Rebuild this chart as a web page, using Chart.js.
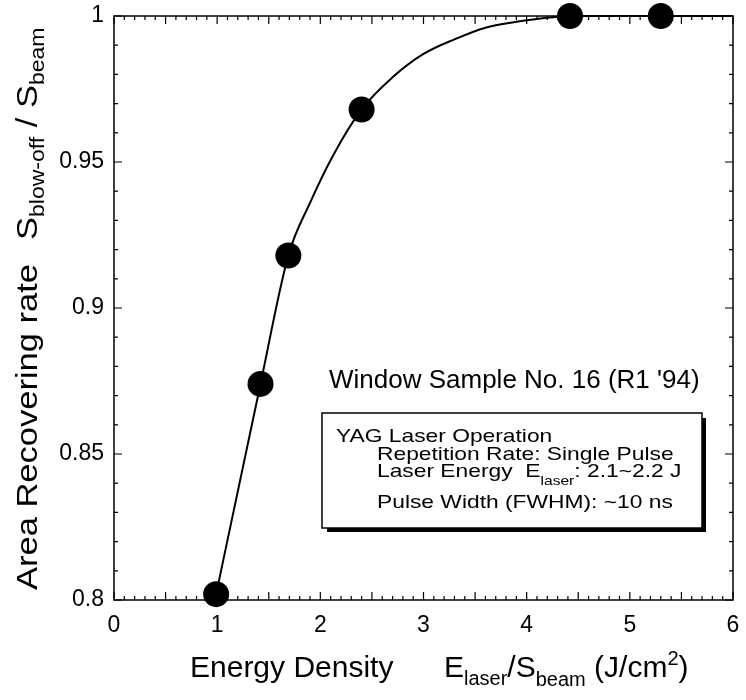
<!DOCTYPE html>
<html>
<head>
<meta charset="utf-8">
<script src="https://cdn.jsdelivr.net/npm/chart.js@4.4.1/dist/chart.umd.min.js"></script>
<style>
  html, body { margin: 0; padding: 0; background: #fff; }
  #wrap { width: 746px; height: 700px; }
</style>
</head>
<body>
<div id="wrap"><canvas id="chart" width="746" height="700"></canvas></div>
<script>
// measured points (energy density J/cm2 vs area recovering rate)
const energy = [0.99, 1.42, 1.69, 2.40, 4.42, 5.30];
const recovery = [0.802, 0.874, 0.918, 0.968, 1.0, 1.0];

// fitted curve
const fitEnergy = [0.99, 1.42, 1.69, 1.9, 2.12, 2.4, 2.7, 3.0, 3.3, 3.6, 3.9, 4.2, 4.5, 6.0];
const fitRecovery = [0.802, 0.874, 0.918, 0.936, 0.952, 0.968, 0.979, 0.987, 0.992, 0.996, 0.998, 0.9994, 1.0, 1.0];

const xTicks = [0, 1, 2, 3, 4, 5, 6];
const yTicks = [0.8, 0.85, 0.9, 0.95, 1];

const FONT = '"Liberation Sans", Arial, Helvetica, sans-serif';

// draw one run of text, optionally stretched sideways, return its width
function txt(ctx, s, x, y, size, sx) {
    sx = sx || 1;
    ctx.save();
    ctx.font = size + 'px ' + FONT;
    ctx.translate(x, y);
    ctx.scale(sx, 1);
    ctx.fillText(s, 0, 0);
    const w = ctx.measureText(s).width * sx;
    ctx.restore();
    return w;
}

// runs: [text, size, dy]
function rich(ctx, runs, x, y, sx) {
    let cx = x;
    runs.forEach(r => { cx += txt(ctx, r[0], cx, y + (r[2] || 0), r[1], sx); });
    return cx;
}

const framePlugin = {
    id: 'frame',
    beforeDatasetsDraw(chart) {
        const { ctx, chartArea: a, scales: { x, y } } = chart;
        ctx.save();
        ctx.strokeStyle = '#000';
        ctx.lineWidth = 1.5;
        ctx.strokeRect(a.left, a.top, a.right - a.left, a.bottom - a.top);
        ctx.lineWidth = 1.2;
        ctx.beginPath();
        for (let i = 0; i <= 60; i++) {
            const px = x.getPixelForValue(i / 10);
            const len = i % 5 === 0 ? 8 : 4;
            ctx.moveTo(px, a.bottom); ctx.lineTo(px, a.bottom - len);
            ctx.moveTo(px, a.top); ctx.lineTo(px, a.top + len);
        }
        for (let i = 0; i <= 20; i++) {
            const py = y.getPixelForValue(0.8 + i / 100);
            const len = i % 5 === 0 ? 8 : 4;
            ctx.moveTo(a.left, py); ctx.lineTo(a.left + len, py);
            ctx.moveTo(a.right, py); ctx.lineTo(a.right - len, py);
        }
        ctx.stroke();
        ctx.restore();
    }
};

const textPlugin = {
    id: 'texts',
    afterDraw(chart) {
        const ctx = chart.ctx;
        ctx.save();
        ctx.fillStyle = '#000';
        ctx.textBaseline = 'alphabetic';

        // y axis title
        ctx.save();
        ctx.translate(37, 590);
        ctx.rotate(-Math.PI / 2);
        let cx = txt(ctx, 'Area Recovering rate', 0, 0, 30, 1.15);
        cx += 24;
        rich(ctx, [['S', 30], ['blow-off', 20, 7], [' / ', 30], ['S', 30], ['beam', 20, 7]], cx, 0, 1.15);
        ctx.restore();

        // x axis title
        txt(ctx, 'Energy Density', 190, 677, 30);
        rich(ctx, [['E', 30], ['laser', 20, 8], ['/S', 30], ['beam', 20, 9], [' (J/cm', 30], ['2', 20, -12], [')', 30]], 444, 677);

        // sample label
        txt(ctx, "Window Sample No. 16 (R1 '94)", 329, 388, 26);

        // boxed note with drop shadow
        ctx.fillStyle = '#fff';
        ctx.fillRect(322, 413, 380, 115);
        ctx.strokeStyle = '#000';
        ctx.lineWidth = 1.5;
        ctx.strokeRect(322, 413, 380, 115);
        ctx.fillStyle = '#000';
        ctx.fillRect(702, 418, 4, 114);
        ctx.fillRect(327, 528, 379, 4);

        txt(ctx, 'YAG Laser Operation', 336, 442, 19, 1.2);
        txt(ctx, 'Repetition Rate: Single Pulse', 377, 460, 19, 1.2);
        rich(ctx, [['Laser Energy  E', 19], ['laser', 13, 8], [': 2.1~2.2 J', 19]], 377, 477, 1.2);
        txt(ctx, 'Pulse Width (FWHM): ~10 ns', 377, 508, 19, 1.2);
        ctx.restore();
    }
};

const ctx = document.getElementById('chart').getContext('2d');

new Chart(ctx, {
    type: 'scatter',
    data: {
        datasets: [
            {
                type: 'line',
                label: 'fit',
                data: fitEnergy.map((x, i) => ({ x: x, y: fitRecovery[i] })),
                borderColor: '#000',
                borderWidth: 2,
                pointRadius: 0,
                fill: false,
                cubicInterpolationMode: 'monotone',
                clip: 5,
                order: 1
            },
            {
                label: 'measured',
                data: energy.map((x, i) => ({ x: x, y: recovery[i] })),
                backgroundColor: '#000',
                borderWidth: 0,
                pointRadius: 13,
                clip: false,
                order: 0
            }
        ]
    },
    options: {
        responsive: false,
        animation: false,
        layout: { padding: { top: 16, right: 13, left: 0, bottom: 0 } },
        plugins: {
            legend: { display: false },
            tooltip: { enabled: false }
        },
        scales: {
            x: {
                type: 'linear',
                min: 0,
                max: 6,
                afterFit(s) {
                    s.height = 100;
                    s.paddingLeft = 0;
                    s.paddingRight = 0;
                },
                afterBuildTicks(s) { s.ticks = xTicks.map(v => ({ value: v })); },
                grid: { display: false, drawTicks: false },
                border: { display: false },
                ticks: { padding: 12, color: '#000', font: { size: 23, family: FONT } }
            },
            y: {
                type: 'linear',
                min: 0.8,
                max: 1,
                afterFit(s) {
                    s.width = 114;
                    s.paddingTop = 0;
                    s.paddingBottom = 0;
                },
                afterBuildTicks(s) { s.ticks = yTicks.map(v => ({ value: v })); },
                grid: { display: false, drawTicks: false },
                border: { display: false },
                ticks: {
                    padding: 10,
                    color: '#000',
                    font: { size: 23, family: FONT },
                    callback: v => String(+v.toFixed(2))
                }
            }
        }
    },
    plugins: [framePlugin, textPlugin]
});
</script>
</body>
</html>
